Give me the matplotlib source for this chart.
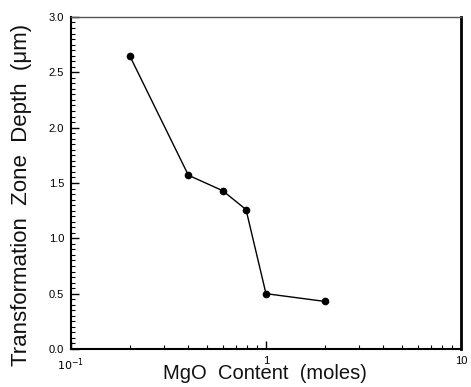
import numpy as np
import matplotlib
matplotlib.use("Agg")
import matplotlib.pyplot as plt
from matplotlib.ticker import FixedLocator, MultipleLocator, NullFormatter

mgo_content = [0.20, 0.40, 0.60, 0.79, 1.00, 2.00]
zone_depth = [2.65, 1.57, 1.43, 1.26, 0.50, 0.43]
y_ticks = [0.0, 0.5, 1.0, 1.5, 2.0, 2.5, 3.0]
y_tick_labels = ["0.0", "0.5", "1.0", "1.5", "2.0", "2.5", "3.0"]
x_ticks = [0.1, 1, 10]
x_tick_labels = [r"$10^{-1}$", "1", "10"]

plt.rcParams['font.family'] = ['Liberation Sans', 'DejaVu Sans']
fig = plt.figure(figsize=(4.71, 3.87), dpi=100)
ax = fig.add_axes([0.1507, 0.0982, 0.828, 0.858])

ax.plot(mgo_content, zone_depth, color='black', lw=1.0, marker='o', ms=4.5,
        markerfacecolor='black', markeredgecolor='black')
ax.set_xscale('log')
ax.set_xlim(0.1, 10)
ax.set_ylim(0, 3.0)

ax.yaxis.set_major_locator(FixedLocator(y_ticks))
ax.set_yticklabels(y_tick_labels)
ax.yaxis.set_minor_locator(MultipleLocator(0.05))
ax.xaxis.set_major_locator(FixedLocator(x_ticks))
ax.set_xticklabels(x_tick_labels)
ax.xaxis.set_minor_formatter(NullFormatter())

ax.tick_params(axis='both', which='major', direction='in', length=6, width=1.0,
               labelsize=8, color='black')
ax.tick_params(axis='y', which='major', pad=5)
ax.tick_params(axis='x', which='major', pad=5)
ax.tick_params(axis='both', which='minor', direction='in', length=3, width=0.8)
ax.tick_params(top=False, right=False, which='both')

for s in ['left', 'bottom']:
    ax.spines[s].set_linewidth(1.5)
ax.spines['right'].set_linewidth(2.0)
ax.spines['top'].set_linewidth(1.0)
ax.spines['top'].set_color('#555555')

xl = ax.set_xlabel("MgO  Content  (moles)", fontsize=14.5, color='#111111')
yl = ax.set_ylabel("Transformation  Zone  Depth  (μm)", fontsize=16, color='#111111')
xl.set_va('center'); xl.set_ha('center')
yl.set_va('center'); yl.set_ha('center')
ax.xaxis.set_label_coords(0.497, -0.075)
ax.yaxis.set_label_coords(-0.128, 0.464)

fig.savefig("out.png", dpi=100)
